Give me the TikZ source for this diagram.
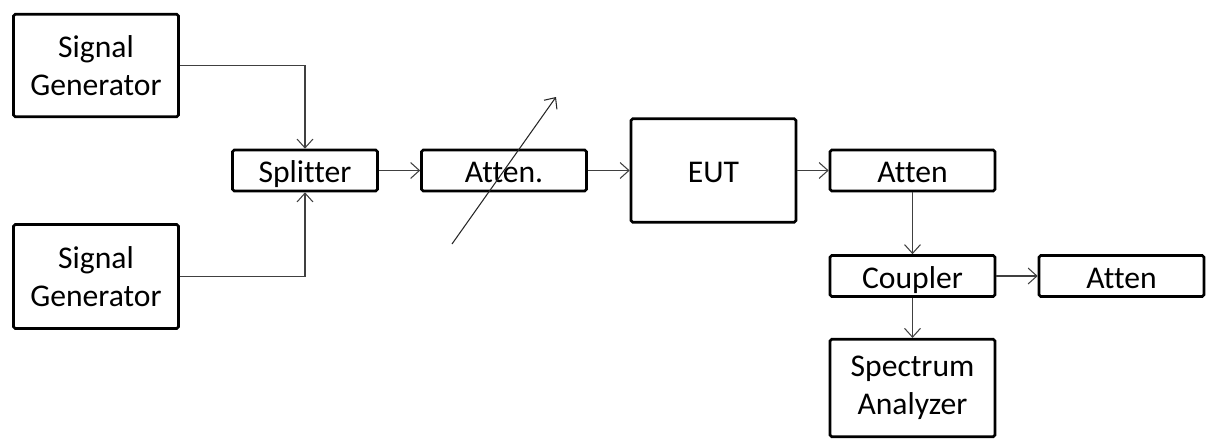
\documentclass[tikz,border=0pt]{standalone}
\usepackage{fontspec}
\setmainfont{Carlito}[Ligatures=NoCommon]
\usetikzlibrary{arrows.meta, positioning, calc}
\definecolor{inkline}{HTML}{404040}
\tikzset{
  block/.style={draw=black, line width=1.5pt, rounded corners=1pt,
    align=center, inner sep=0pt, minimum width=3.3cm, minimum height=0.82cm},
  oneline/.style={text height=17pt, text depth=2.8pt},
  link/.style={draw=inkline, line width=0.6pt,
    -{Straight Barb[length=5pt, width=9pt, line width=0.6pt]}},
}
\begin{document}
\begin{tikzpicture}[x=0.02cm, y=-0.02cm, font=\fontsize{18}{21.6}\selectfont]
  \useasboundingbox (0,0) rectangle (1211,440);
  \node[block, minimum height=2.05cm] (gen1) at (96,65.5) {Signal\\Generator};
  \node[block, minimum height=2.08cm] (gen2) at (96,276.5) {Signal\\Generator};
  \node[block, oneline, minimum width=2.9cm] (split) at (305,170.5) {Splitter};
  \node[block, oneline] (varatt) at (504,170.5) {Atten.};
  \node[block, oneline, minimum height=2.07cm] (eut) at (713.5,170.5) {EUT};
  \node[block, oneline] (attout) at (912.5,170.5) {Atten};
  \node[block, oneline] (coup) at (912.5,276) {Coupler};
  \node[block, oneline] (attend) at (1121.5,276) {Atten};
  \node[block, minimum height=1.95cm] (spec) at (912.5,388) {Spectrum\\Analyzer};
  % feeds into the splitter
  \draw[link] (gen1.east) -| (split.north);
  \draw[link] (gen2.east) -| (split.south);
  \foreach \from/\to in {split/varatt, varatt/eut, eut/attout, coup/attend}{%
    \draw[link] (\from.east) -- (\to.west);}
  \draw[link] (attout.south) -- (coup.north);
  \draw[link] (coup.south) -- (spec.north);
  % variable attenuator mark
  \coordinate (varlo) at (452,244);
  \coordinate (varhi) at (556,97);
  \draw[link, draw=black!85] (varlo) -- (varhi);
\end{tikzpicture}
\end{document}
